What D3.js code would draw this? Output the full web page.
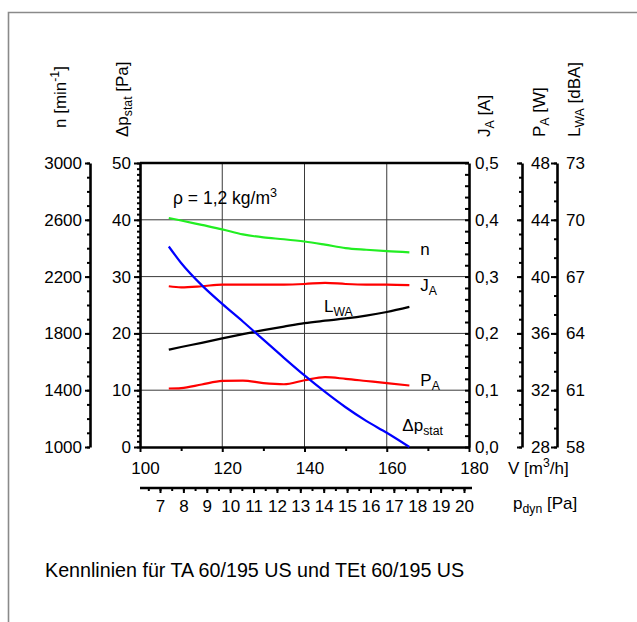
<!DOCTYPE html>
<html><head><meta charset="utf-8">
<script src="https://cdn.jsdelivr.net/npm/d3@7"></script>
<style>
html,body{margin:0;padding:0;background:#fff;}
svg{display:block;font-family:"Liberation Sans",Arial,sans-serif;}
</style></head><body>
<svg id="chart" width="637" height="622"></svg>
<script>
// Volume flow (m³/h) at which all curves were measured
const flow = [107, 110, 115, 120, 125, 130, 135, 140, 145, 150, 155, 160, 165.5];
// Static pressure difference Δp_stat [Pa]
const staticPressure = [35.3, 32.4, 28.5, 25.2, 22.1, 18.9, 15.7, 12.6, 9.7, 7.0, 4.6, 2.5, 0];
// Speed n [min^-1]
const speed = [2613, 2595, 2564, 2533, 2497, 2476, 2463, 2447, 2425, 2401, 2389, 2379, 2371];
// Current J_A [A]
const current = [0.283, 0.281, 0.283, 0.286, 0.286, 0.286, 0.286, 0.287, 0.289, 0.287, 0.286, 0.286, 0.285];
// Power P_A [W]
const power = [32.12, 32.15, 32.4, 32.65, 32.68, 32.5, 32.42, 32.7, 32.92, 32.8, 32.65, 32.5, 32.33];
// Sound power level L_WA [dBA]
const soundPower = [63.14, 63.28, 63.5, 63.74, 63.96, 64.17, 64.36, 64.54, 64.67, 64.79, 64.94, 65.13, 65.4];

// Tick values of the axes
const flowTicks = [100, 120, 140, 160, 180];
const flowMinor = [110, 130, 150, 170];
const speedTicks = [1000, 1400, 1800, 2200, 2600, 3000];
const pressureTicks = [0, 10, 20, 30, 40, 50];
const currentTicks = [0, 0.1, 0.2, 0.3, 0.4, 0.5];
const powerTicks = [28, 32, 36, 40, 44, 48];
const soundTicks = [58, 61, 64, 67, 70, 73];
const dynTicks = [7, 8, 9, 10, 11, 12, 13, 14, 15, 16, 17, 18, 19, 20];

const svg = d3.select("#chart");
const FS = 17;
const L = 140, R = 469, T = 163, B = 447;

const x = d3.scaleLinear([100, 180], [L, R]);
const yP = d3.scaleLinear([0, 50], [B, T]);
const yN = d3.scaleLinear([1000, 3000], [B, T]);
const yJ = d3.scaleLinear([0, 0.5], [B, T]);
const yW = d3.scaleLinear([28, 48], [B, T]);
const yL = d3.scaleLinear([58, 73], [B, T]);
const xDyn = d3.scaleLinear([7, 20], [160, 464]);

const de = d3.formatLocale({decimal: ",", thousands: ".", grouping: [3], currency: ["", " €"]});
const fmt1 = de.format(".1f");

// outer frame
svg.append("path").attr("d", "M8.5,622V12.5H637").attr("fill", "none")
  .attr("stroke", "#8a8a8a").attr("stroke-width", 1.6);

// grid
const grid = svg.append("g").attr("stroke", "#3a3a3a").attr("stroke-width", 1);
grid.selectAll(".h").data(pressureTicks.filter(d => d > 0 && d < 50)).join("line")
  .attr("x1", L).attr("x2", R).attr("y1", d => yP(d)).attr("y2", d => yP(d));
grid.selectAll(".v").data(flowTicks.filter(d => d > 100 && d < 180)).join("line")
  .attr("y1", T).attr("y2", B).attr("x1", d => x(d)).attr("x2", d => x(d));

function styleAxis(g, size) {
  g.attr("font-size", size || FS).attr("font-family", null);
  g.select(".domain").attr("stroke-width", 2.6).attr("stroke", "#000");
  g.selectAll(".tick line").attr("stroke-width", 2).attr("stroke", "#000");
  g.selectAll(".tick text").attr("fill", "#000");
}
function minor(gen, values, size, translate) {
  const g = svg.append("g").attr("transform", translate)
    .call(gen.tickValues(values).tickSize(size).tickSizeOuter(0).tickFormat(""));
  g.select(".domain").remove();
  g.selectAll(".tick line").attr("stroke-width", 2).attr("stroke", "#000");
}
const range = (a, b, s) => d3.range(Math.round((b - a) / s) + 1).map(i => +(a + i * s).toFixed(4));

// left: speed axis
minor(d3.axisLeft(yN), range(1000, 3000, 100), 3, "translate(90,0)");
svg.append("g").attr("transform", "translate(90,0)")
  .call(d3.axisLeft(yN).tickValues(speedTicks).tickSize(5).tickSizeOuter(0).tickPadding(3).tickFormat(d3.format("d")))
  .call(styleAxis);

// left: static pressure axis (frame side)
minor(d3.axisLeft(yP), range(0, 50, 1), 3, `translate(${L},0)`);
svg.append("g").attr("transform", `translate(${L},0)`)
  .call(d3.axisLeft(yP).tickValues(pressureTicks).tickSize(6).tickSizeOuter(0).tickPadding(3))
  .call(styleAxis);

// right: current axis (frame side)
minor(d3.axisLeft(yJ), range(0, 0.5, 0.02), 4, `translate(${R},0)`);
svg.append("g").attr("transform", `translate(${R},0)`)
  .call(d3.axisRight(yJ).tickValues(currentTicks).tickSize(0).tickSizeOuter(0).tickPadding(6).tickFormat(fmt1))
  .call(styleAxis);

// right: power axis
minor(d3.axisLeft(yW), range(28, 48, 1), 3, "translate(522,0)");
const gW = svg.append("g").attr("transform", "translate(522,0)")
  .call(d3.axisLeft(yW).tickValues(powerTicks).tickSize(5).tickSizeOuter(0).tickFormat(""))
  .call(styleAxis);
gW.selectAll(".tick").append("text").attr("x", 9).attr("dy", "0.32em").attr("fill", "#000")
  .attr("text-anchor", "start").text(d => d);

// right: sound power axis
minor(d3.axisLeft(yL), range(58, 73, 1), 3, "translate(557,0)");
const gL = svg.append("g").attr("transform", "translate(557,0)")
  .call(d3.axisLeft(yL).tickValues(soundTicks).tickSize(6).tickSizeOuter(0).tickFormat(""))
  .call(styleAxis);
gL.selectAll(".tick").append("text").attr("x", 9).attr("dy", "0.32em").attr("fill", "#000")
  .attr("text-anchor", "start").text(d => d);

// top frame line
svg.append("line").attr("x1", L).attr("x2", R).attr("y1", T).attr("y2", T)
  .attr("stroke", "#000").attr("stroke-width", 2.6);

// bottom: volume flow axis
minor(d3.axisBottom(x), flowMinor, 4, `translate(0,${B})`);
const gX = svg.append("g").attr("transform", `translate(0,${B})`)
  .call(d3.axisBottom(x).tickValues(flowTicks).tickSize(5).tickSizeOuter(0).tickPadding(10))
  .call(styleAxis);
gX.selectAll(".tick text").attr("dx", 5);

// bottom: dynamic pressure axis
const yDyn = 488;
minor(d3.axisBottom(xDyn), range(6.5, 20, 0.5), 3, `translate(0,${yDyn})`);
const gD = svg.append("g").attr("transform", `translate(0,${yDyn})`)
  .call(d3.axisBottom(xDyn).tickValues(dynTicks).tickSize(5).tickSizeOuter(0).tickPadding(7))
  .call(styleAxis);
gD.select(".domain").remove();
svg.append("line").attr("x1", L).attr("x2", 472).attr("y1", yDyn).attr("y2", yDyn)
  .attr("stroke", "#000").attr("stroke-width", 2.6);

// curves
const series = [
  {values: speed, scale: yN, color: "#22ee22"},
  {values: current, scale: yJ, color: "#ff0000"},
  {values: soundPower, scale: yL, color: "#000000"},
  {values: power, scale: yW, color: "#ff0000"},
  {values: staticPressure, scale: yP, color: "#0000ff"}
];
const plot = svg.append("g");
series.forEach(s => {
  const line = d3.line().x((d, i) => x(flow[i])).y(d => s.scale(d)).curve(d3.curveMonotoneX);
  plot.append("path").datum(s.values).attr("d", line).attr("fill", "none")
    .attr("stroke", s.color).attr("stroke-width", 2.2);
});

// text helper: parts are [text, "sub"|"sup"|null]
function rich(g, parts, size) {
  const t = g.append("text").attr("font-size", size || FS).attr("fill", "#000");
  let shift = 0;
  parts.forEach(([s, kind]) => {
    const ts = t.append("tspan").text(s);
    let target = kind === "sub" ? 4 : kind === "sup" ? -7 : 0;
    if (target !== shift) { ts.attr("dy", target - shift); shift = target; }
    if (kind) ts.attr("font-size", (size || FS) * 0.72);
  });
  return t;
}

// curve labels
const last = flow.length - 1;
rich(svg.append("g").attr("transform", `translate(${x(flow[last]) + 11},${yN(speed[last]) + 3})`), [["n", null]]);
rich(svg.append("g").attr("transform", `translate(${x(flow[last]) + 11},${yJ(current[last]) + 6})`), [["J", null], ["A", "sub"]]);
rich(svg.append("g").attr("transform", `translate(${x(flow[last]) + 11},${yW(power[last]) + 0})`), [["P", null], ["A", "sub"]]);
rich(svg.append("g").attr("transform", `translate(${x(145) - 1},${yL(soundPower[8]) - 9})`), [["L", null], ["WA", "sub"]]);
rich(svg.append("g").attr("transform", `translate(${x(flow[last]) - 7},${yP(staticPressure[last]) - 16})`), [["Δp", null], ["stat", "sub"]]);
rich(svg.append("g").attr("transform", `translate(173,204)`), [["ρ = 1,2 kg/m", null], ["3", "sup"]], 17.5);

// axis titles
rich(svg.append("g").attr("transform", "translate(508,474)"), [["V [m", null], ["3", "sup"], ["/h]", null]]);
rich(svg.append("g").attr("transform", "translate(513,509)"), [["p", null], ["dyn", "sub"], [" [Pa]", null]]);
rich(svg.append("g").attr("transform", "translate(66,128) rotate(-90)"), [["n [min", null], ["-1", "sup"], ["]", null]]);
rich(svg.append("g").attr("transform", "translate(128,137) rotate(-90)"), [["Δp", null], ["stat", "sub"], [" [Pa]", null]]);
rich(svg.append("g").attr("transform", "translate(490,137) rotate(-90)"), [["J", null], ["A", "sub"], [" [A]", null]]);
rich(svg.append("g").attr("transform", "translate(545,137) rotate(-90)"), [["P", null], ["A", "sub"], [" [W]", null]]);
rich(svg.append("g").attr("transform", "translate(580,137) rotate(-90)"), [["L", null], ["WA", "sub"], [" [dBA]", null]]);

// caption
svg.append("text").attr("x", 45).attr("y", 577).attr("font-size", 19.7).attr("fill", "#000")
  .text("Kennlinien für TA 60/195 US und TEt 60/195 US");
</script>
</body></html>
